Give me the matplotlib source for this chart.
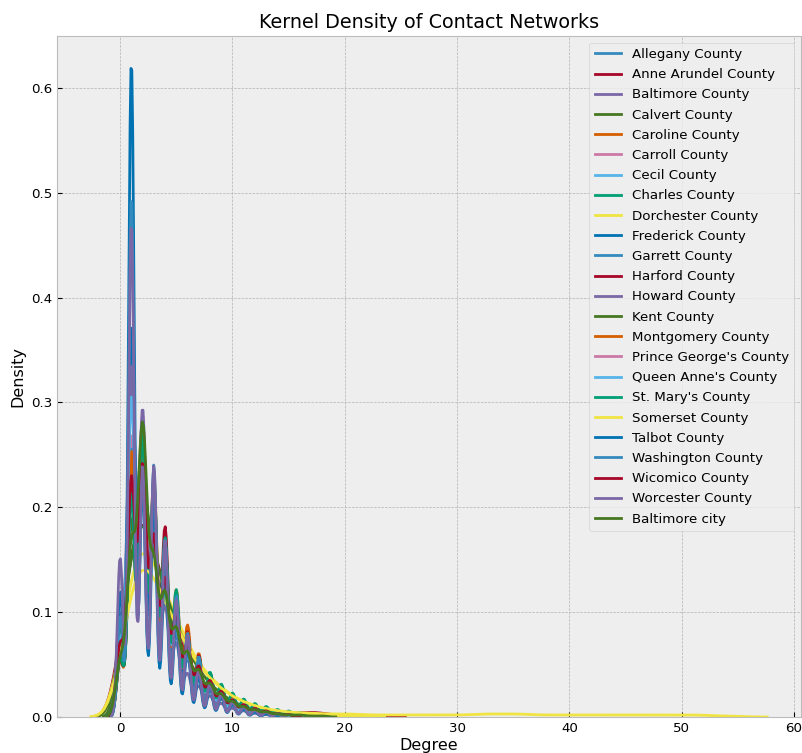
import numpy as np
import matplotlib
matplotlib.use("Agg")
import matplotlib.pyplot as plt

# degree counts (people per degree 0, 1, 2, ...) for each county, and kde bandwidth
counties = ["Allegany County", "Anne Arundel County", "Baltimore County", "Calvert County",
            "Caroline County", "Carroll County", "Cecil County", "Charles County",
            "Dorchester County", "Frederick County", "Garrett County", "Harford County",
            "Howard County", "Kent County", "Montgomery County", "Prince George's County",
            "Queen Anne's County", "St. Mary's County", "Somerset County", "Talbot County",
            "Washington County", "Wicomico County", "Worcester County", "Baltimore city"]

allegany = [60, 250, 210, 150, 105, 70, 50, 35, 25, 17, 11, 7, 4, 3, 2]
anne_arundel = [70, 180, 210, 170, 120, 85, 55, 38, 26, 18, 13, 9, 7, 5, 4, 4, 4, 5, 4, 2, 1, 1, 1, 1]
baltimore_county = [80, 280, 240, 140, 90, 60, 35, 25, 17, 11, 7, 5, 3, 2, 1]
calvert = [70, 190, 230, 160, 110, 80, 55, 38, 26, 17, 11, 7, 4, 3, 2]
caroline = [40, 170, 200, 170, 120, 90, 65, 45, 30, 22, 15, 10, 7, 5, 4]
carroll = [50, 200, 215, 160, 115, 80, 55, 40, 28, 20, 13, 9, 6, 4, 3]
cecil = [60, 230, 190, 150, 110, 80, 55, 38, 27, 18, 12, 8, 6, 4, 3]
charles = [40, 160, 200, 160, 120, 80, 55, 40, 30, 22, 16, 11, 8, 6, 4, 3, 2]
dorchester = [60, 150, 170, 150, 120, 95, 70, 50, 38, 28, 20, 14, 10, 7, 5, 4, 3, 2, 2, 1, 1, 1]
frederick = [45, 240, 160, 145, 100, 70, 50, 35, 25, 17, 11, 8, 6, 4, 3]
garrett = [55, 240, 215, 150, 105, 72, 50, 35, 24, 16, 10, 6, 4, 3, 2]
harford = [40, 160, 200, 150, 130, 80, 58, 42, 30, 21, 15, 10, 7, 5, 4, 3, 2]
howard = [70, 250, 220, 150, 100, 65, 45, 32, 23, 16, 11, 7, 5, 3, 2]
kent = [65, 170, 200, 160, 120, 90, 65, 45, 32, 22, 15, 10, 7, 5, 3, 2, 1]
montgomery = [50, 190, 200, 165, 120, 85, 60, 42, 30, 21, 14, 10, 7, 5, 4]
prince_georges = [50, 180, 230, 160, 115, 80, 56, 40, 28, 20, 14, 10, 7, 5, 4, 3, 2]
queen_annes = [60, 260, 200, 145, 100, 70, 48, 34, 24, 16, 10, 7, 4, 3, 2]
st_marys = [40, 150, 190, 150, 120, 85, 55, 40, 30, 22, 16, 12, 9, 7, 5, 4, 3]
somerset = [55, 140, 160, 140, 115, 90, 68, 50, 38, 28, 20, 15, 11, 8, 6, 5, 4, 4, 3, 3,
            3, 3, 2, 2, 2, 2, 2, 2, 2, 2, 2, 2, 3, 3, 3, 3, 3, 2, 2, 2,
            2, 2, 2, 2, 2, 2, 2, 2, 2, 2, 2, 2, 2, 1, 1, 1]
talbot = [75, 392, 140, 130, 90, 60, 42, 24, 17, 12, 8, 5, 3, 2, 1]
washington = [60, 310, 150, 150, 105, 72, 50, 36, 21, 15, 10, 7, 5, 3, 2]
wicomico = [60, 200, 210, 150, 115, 85, 60, 42, 30, 21, 14, 10, 7, 5, 3, 2]
worcester = [95, 295, 150, 150, 105, 70, 49, 28, 20, 14, 9, 6, 4, 3, 2]
baltimore_city = [55, 170, 290, 150, 120, 85, 62, 45, 32, 22, 15, 10, 7, 5, 3, 2, 2, 1, 1]

degree_counts = [allegany, anne_arundel, baltimore_county, calvert, caroline, carroll, cecil,
                 charles, dorchester, frederick, garrett, harford, howard, kent, montgomery,
                 prince_georges, queen_annes, st_marys, somerset, talbot, washington,
                 wicomico, worcester, baltimore_city]
bandwidths = [0.4, 0.8, 0.35, 0.5, 0.3, 0.3, 0.3, 0.3, 0.85, 0.28, 0.4, 0.3,
              0.3, 0.7, 0.3, 0.35, 0.35, 0.3, 0.87, 0.25, 0.25, 0.35, 0.25, 0.4]


def kde(counts, h, gridsize=200, cut=3):
    deg = np.arange(len(counts))
    w = np.asarray(counts, dtype=float)
    w = w / w.sum()
    x = np.linspace(deg.min() - cut * h, deg.max() + cut * h, gridsize)
    z = (x[:, None] - deg[None, :]) / h
    y = (np.exp(-0.5 * z ** 2) * w).sum(axis=1) / (h * np.sqrt(2 * np.pi))
    return x, y


plt.style.use("bmh")
plt.rcParams["font.size"] = 9.6
fig = plt.figure(figsize=(8.03, 7.53), dpi=100)
ax = fig.add_axes([57 / 803, 36 / 753, 744 / 803, 681 / 753])

for name, counts, h in zip(counties, degree_counts, bandwidths):
    x, y = kde(counts, h)
    ax.plot(x, y, label=name)

ax.set_ylim(bottom=0)
ax.set_title("Kernel Density of Contact Networks")
ax.set_xlabel("Degree", labelpad=2)
ax.set_ylabel("Density")
ax.legend(loc="upper right", fontsize=9.6, labelspacing=0.54)

fig.savefig("out.png", dpi=100)
